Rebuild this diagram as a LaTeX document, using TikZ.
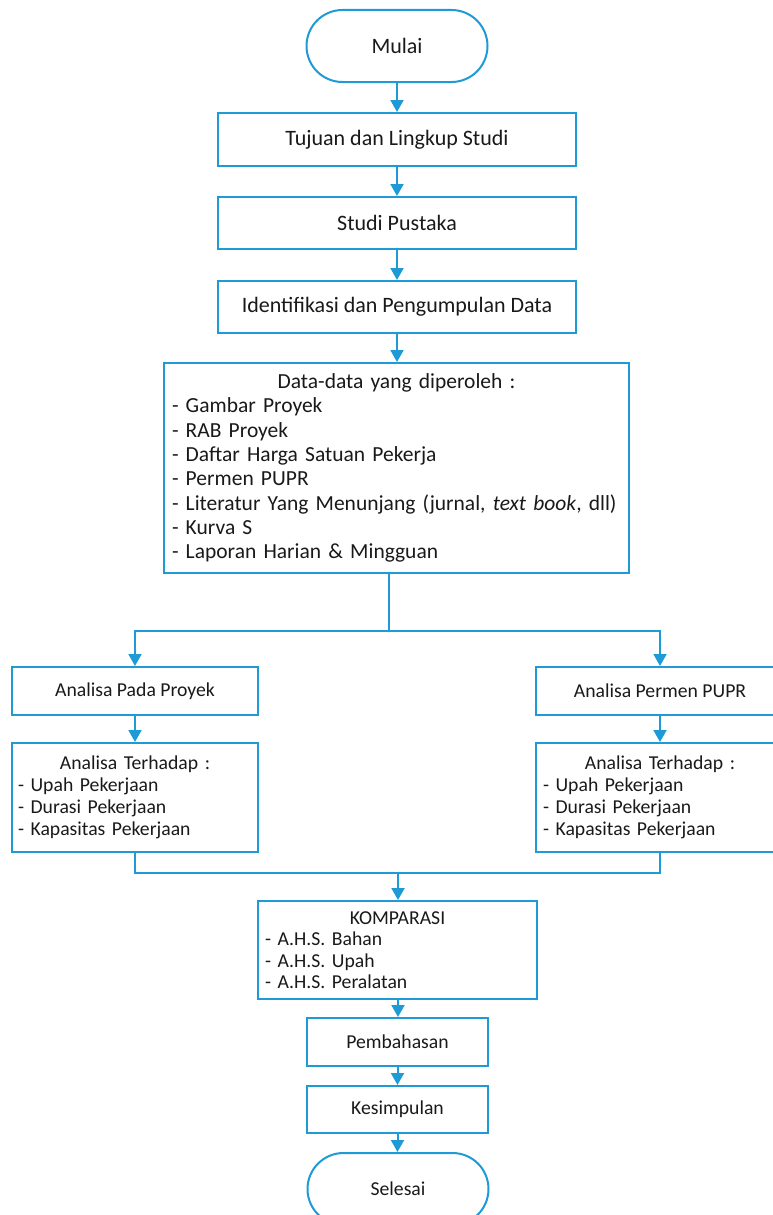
\documentclass[tikz,border=0pt]{standalone}
\usepackage{fontspec}
\setmainfont{Carlito}
\usetikzlibrary{arrows.meta}
\definecolor{fc}{RGB}{30,155,215}
\definecolor{tc}{RGB}{25,25,25}
\begin{document}
\begin{tikzpicture}[x=1pt,y=-1pt,
 box/.style={draw=fc, line width=2pt, rectangle, inner sep=0pt, text=tc},
 big/.style={font=\fontsize{22}{24.3}\selectfont},
 small/.style={font=\fontsize{19.7}{22.2}\selectfont},
 term/.style={box, rounded corners=36pt, minimum width=181pt, minimum height=72pt},
 arr/.style={draw=fc, line width=2pt, -{Triangle[length=12pt,width=13pt]}},
 ln/.style={draw=fc, line width=2pt}]
\useasboundingbox (0,0) rectangle (772,1215);
\node[term, big] (mulai) at (397,46) {Mulai};
\node[box, big, minimum width=358pt, minimum height=53pt] (tujuan) at (397,139.5) {Tujuan dan Lingkup Studi};
\node[box, big, minimum width=358pt, minimum height=52pt] (studi) at (397,223) {Studi Pustaka};
\node[box, big, minimum width=358pt, minimum height=52pt] (ident) at (397,307) {Identifikasi dan Pengumpulan Data};
\node[box, font=\fontsize{21.5}{24.3}\selectfont, text width=449pt, inner xsep=8pt, minimum height=210pt, align=left] (data) at (396.5,468)
 {\makebox[449pt][c]{Data-data yang diperoleh :}\\
 \mbox{- Gambar Proyek}\\
 \mbox{- RAB Proyek}\\
 \mbox{- Daftar Harga Satuan Pekerja}\\
 \mbox{- Permen PUPR}\\
 \mbox{- Literatur Yang Menunjang (jurnal, \textit{text book}, dll)}\\
 \mbox{- Kurva S}\\
 \mbox{- Laporan Harian \& Mingguan}};
\node[box, small, minimum width=246pt, minimum height=48pt] (left1) at (135,691) {Analisa Pada Proyek};
\node[box, small, minimum width=248pt, minimum height=48pt] (right1) at (660,691) {Analisa Permen PUPR};
\node[box, small, text width=234pt, inner xsep=6pt, minimum height=109pt, align=left] (left2) at (135,797.5)
 {\makebox[234pt][c]{Analisa Terhadap :}\\
 \mbox{- Upah Pekerjaan}\\
 \mbox{- Durasi Pekerjaan}\\
 \mbox{- Kapasitas Pekerjaan}};
\node[box, small, text width=234pt, inner xsep=7pt, minimum height=109pt, align=left] (right2) at (660,797.5)
 {\makebox[234pt][c]{Analisa Terhadap :}\\
 \mbox{- Upah Pekerjaan}\\
 \mbox{- Durasi Pekerjaan}\\
 \mbox{- Kapasitas Pekerjaan}};
\node[box, font=\fontsize{19.7}{21.4}\selectfont, text width=265pt, inner xsep=7pt, minimum height=98pt, align=left] (kompar) at (397.5,950)
 {\makebox[265pt][c]{KOMPARASI}\\
 \mbox{- A.H.S. Bahan}\\
 \mbox{- A.H.S. Upah}\\
 \mbox{- A.H.S. Peralatan}};
\node[box, small, minimum width=181pt, minimum height=48pt] (pemb) at (397.5,1042) {Pembahasan};
\node[box, small, minimum width=181pt, minimum height=47pt] (kesim) at (397.5,1109.5) {Kesimpulan};
\node[term, small] (selesai) at (398,1189) {Selesai};
\coordinate (split) at (389,631);
\coordinate (merge) at (398,873);
\draw[arr] (mulai) -- (tujuan);
\draw[arr] (tujuan) -- (studi);
\draw[arr] (studi) -- (ident);
\draw[arr] (ident) -- (ident.south |- data.north);
\draw[ln] (data.south -| split) -- (split);
\draw[arr] (split) -| (left1.north);
\draw[arr] (split) -| (right1.north);
\draw[arr] (left1) -- (left2);
\draw[arr] (right1) -- (right2);
\draw[ln] (left2.south) |- (right2.south |- merge) -- (right2.south);
\draw[arr] (merge) -- (merge |- kompar.north);
\draw[arr] (kompar.south -| merge) -- (merge |- pemb.north);
\draw[arr] (pemb) -- (kesim);
\draw[arr] (kesim) -- (kesim.south |- selesai.north);
\end{tikzpicture}
\end{document}
